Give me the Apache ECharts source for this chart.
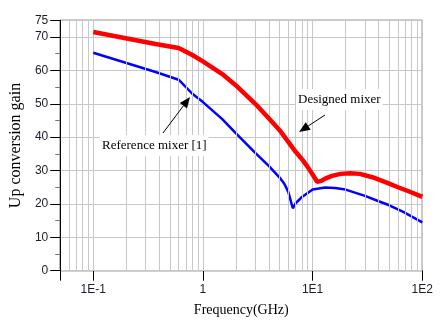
<!DOCTYPE html>
<html>
<head>
<meta charset="utf-8">
<script src="https://cdn.jsdelivr.net/npm/echarts@6/dist/echarts.min.js"></script>
<style>
  html, body { margin: 0; padding: 0; background: #fff; }
  #grafico { width: 440px; height: 328px; }
</style>
</head>
<body>
<div id="grafico"></div>
<script>
// dados (GHz, dB)
var freqDesigned = [0.1, 0.37, 0.6, 0.8, 1, 1.5, 2, 3, 4, 5, 6, 7, 8, 9, 10, 11, 12, 13, 15, 18, 22, 27, 35, 48, 60, 75, 100];
var gainDesigned = [71.5, 67.9, 66.7, 64.6, 62.7, 58.9, 55.5, 50.0, 45.6, 42.1, 38.6, 35.6, 33.4, 31.1, 28.8, 26.6, 26.9, 27.6, 28.4, 29.0, 29.2, 29.0, 28.0, 26.3, 25.0, 23.8, 22.1];

var freqReference = [0.1, 0.37, 0.6, 0.8, 1, 1.5, 2, 3, 4, 5, 5.5, 6, 6.6, 7, 8, 10, 13, 16, 20, 30, 40, 50, 67, 100];
var gainReference = [65.3, 59.5, 57.2, 53.0, 50.5, 45.4, 41.1, 35.3, 31.3, 27.9, 26.1, 23.6, 18.7, 20.2, 22.1, 24.3, 24.9, 24.8, 24.3, 22.4, 20.8, 19.6, 17.6, 14.5];

// linhas de grade menores (log)
var gradeMenor = [0.06, 0.07, 0.08, 0.09,
    0.2, 0.3, 0.4, 0.5, 0.6, 0.7, 0.8, 0.9,
    2, 3, 4, 5, 6, 7, 8, 9,
    20, 30, 40, 50, 60, 70, 80, 90];

var rotulosX = { "-1": "1E-1", "0": "1", "1": "1E1", "2": "1E2" };

function juntar(xs, ys) {
    return xs.map((x, i) => [x, ys[i]]);
}

function seta(x1, y1, x2, y2) {
    // seta com ponta preenchida em (x2, y2)
    let ang = Math.atan2(y2 - y1, x2 - x1);
    let comp = 11, larg = 4.5;
    let bx = x2 - comp * Math.cos(ang), by = y2 - comp * Math.sin(ang);
    let px = -Math.sin(ang) * larg, py = Math.cos(ang) * larg;
    return [
        { type: "line", z: 100, shape: { x1: x1, y1: y1, x2: bx, y2: by }, style: { stroke: "#000", lineWidth: 1 } },
        { type: "polygon", z: 100, shape: { points: [[x2, y2], [bx + px, by + py], [bx - px, by - py]] }, style: { fill: "#000" } }
    ];
}

var fonteSerif = "'Liberation Serif', 'Times New Roman', serif";
var fonteSans = "'Liberation Sans', Arial, sans-serif";

var myChart = echarts.init(document.getElementById("grafico"));

var option = {
    animation: false,
    grid: {
        left: 51.3, right: 17.7, top: 20.3, bottom: 57.3,
        show: true, borderColor: "#000", borderWidth: 1
    },
    xAxis: {
        type: "log",
        min: 0.05,
        max: 100,
        axisLine: { lineStyle: { color: "#000", width: 1 } },
        axisTick: { show: true, length: 10, lineStyle: { color: "#000" } },
        axisLabel: {
            margin: 13,
            color: "#1c1c2c",
            fontFamily: fonteSans,
            fontSize: 12,
            formatter: v => {
                let e = Math.log10(v);
                let r = Math.round(e);
                if (Math.abs(e - r) > 1e-6) return "";
                return rotulosX[String(r)] || "";
            }
        },
        splitLine: { show: true, lineStyle: { color: "#c8c8c8", width: 1 } },
        name: "Frequency(GHz)",
        nameLocation: "middle",
        nameGap: 33,
        nameTextStyle: { fontFamily: fonteSerif, fontSize: 14, color: "#000" }
    },
    yAxis: [
        {
            type: "value",
            min: 0,
            max: 75,
            interval: 10,
            axisLine: { show: true, lineStyle: { color: "#000", width: 1 } },
            axisTick: { show: true, length: 10, lineStyle: { color: "#000" } },
            axisLabel: { margin: 12, color: "#1c1c2c", fontFamily: fonteSans, fontSize: 12 },
            splitLine: { show: true, lineStyle: { color: "#c8c8c8", width: 1 } },
            name: "Up conversion gain",
            nameLocation: "middle",
            nameGap: 32,
            nameTextStyle: { fontFamily: fonteSerif, fontSize: 16, color: "#000" },
            z: 3
        },
        {
            type: "value",
            min: 0,
            max: 75,
            interval: 5,
            position: "left",
            axisLine: { show: false },
            axisTick: { show: true, length: 5, lineStyle: { color: "#777" } },
            axisLabel: { show: false },
            splitLine: { show: false },
            z: 2
        }
    ],
    series: [
        {
            name: "grade",
            type: "line",
            data: [],
            z: 1,
            silent: true,
            markLine: {
                silent: true,
                symbol: ["none", "none"],
                label: { show: false },
                lineStyle: { color: "#c8c8c8", width: 1, type: "solid" },
                emphasis: { disabled: true },
                data: gradeMenor.map(v => ({ xAxis: v }))
            }
        },
        {
            name: "Reference mixer [1]",
            type: "line",
            data: juntar(freqReference, gainReference),
            showSymbol: false,
            lineStyle: { color: "#0000ff", width: 2.5 },
            itemStyle: { color: "#0000ff" },
            z: 4
        },
        {
            name: "Designed mixer",
            type: "line",
            data: juntar(freqDesigned, gainDesigned),
            showSymbol: false,
            lineStyle: { color: "#ff0000", width: 4.5 },
            itemStyle: { color: "#ff0000" },
            z: 5
        }
    ],
    graphic: [
        {
            type: "text", left: 100, top: 135, z: 90,
            style: {
                text: "Reference mixer [1]", font: "13px " + fonteSerif, fill: "#000",
                backgroundColor: "#fff", padding: [4, 2, 4, 2]
            }
        },
        {
            type: "text", left: 296, top: 89, z: 90,
            style: {
                text: "Designed mixer", font: "13px " + fonteSerif, fill: "#000",
                backgroundColor: "#fff", padding: [4, 2, 4, 2]
            }
        }
    ].concat(seta(163, 133, 190, 97)).concat(seta(325, 115, 299, 132))
};

myChart.setOption(option);
</script>
</body>
</html>
